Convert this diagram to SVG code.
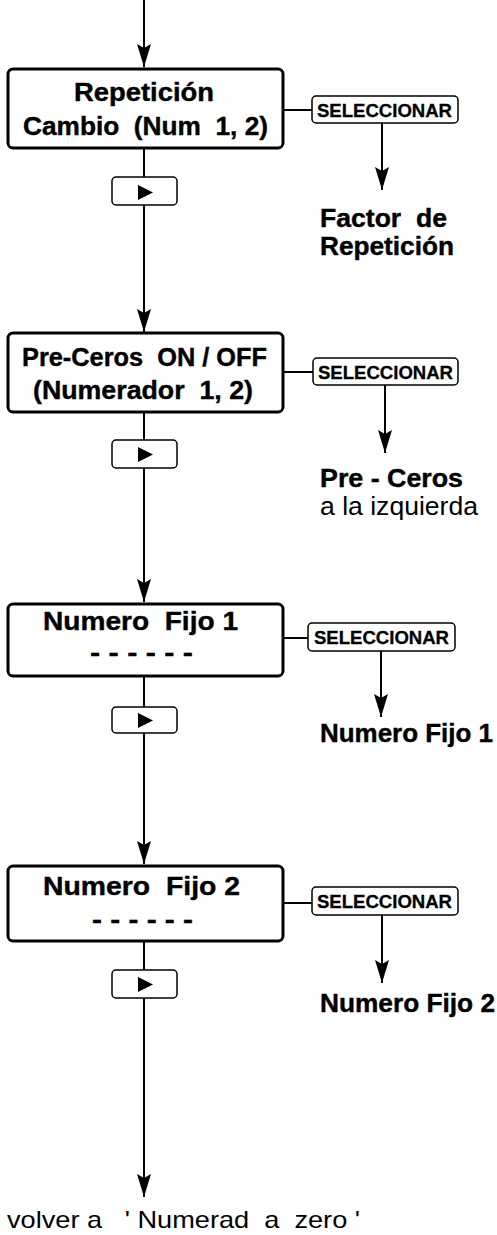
<svg xmlns="http://www.w3.org/2000/svg" width="497" height="1235" viewBox="0 0 497 1235">
<style>
.bx{fill:#fff;stroke:#000;stroke-width:3}
.btn{fill:#fff;stroke:#000;stroke-width:1.5}
.sel{fill:#fff;stroke:#000;stroke-width:1.5}
.ln{stroke:#000;stroke-width:2;fill:none}
.t{font-family:"Liberation Sans",Arial,sans-serif;font-weight:bold;font-size:26px;fill:#000;stroke:#000;stroke-width:0.4}
.s{font-family:"Liberation Sans",Arial,sans-serif;font-weight:bold;font-size:19px;fill:#000;stroke:#000;stroke-width:0.3}
.r{font-family:"Liberation Sans",Arial,sans-serif;font-weight:bold;font-size:25px;fill:#000;stroke:#000;stroke-width:0.4}
.n{font-family:"Liberation Sans",Arial,sans-serif;font-size:25px;fill:#000}
.b{font-family:"Liberation Sans",Arial,sans-serif;font-size:24px;fill:#000}
</style>
<defs>
<marker id="ah" markerUnits="userSpaceOnUse" markerWidth="30" markerHeight="20" refX="0" refY="0" viewBox="-25 -10 30 20" orient="auto">
<path d="M0,0 L-23,-7 L-19,0 L-23,7 Z" fill="#000"/>
</marker>
</defs>
<g id="connectors">
<line class="ln" x1="144" y1="0" x2="144" y2="67" marker-end="url(#ah)"/>
<line class="ln" x1="144" y1="148" x2="144" y2="177"/>
<line class="ln" x1="144" y1="205" x2="144" y2="332" marker-end="url(#ah)"/>
<line class="ln" x1="144" y1="412" x2="144" y2="440"/>
<line class="ln" x1="144" y1="468" x2="144" y2="602" marker-end="url(#ah)"/>
<line class="ln" x1="144" y1="676" x2="144" y2="707"/>
<line class="ln" x1="144" y1="733" x2="144" y2="864" marker-end="url(#ah)"/>
<line class="ln" x1="144" y1="941" x2="144" y2="970"/>
<line class="ln" x1="144" y1="998" x2="144" y2="1197" marker-end="url(#ah)"/>
<line class="ln" x1="283" y1="110" x2="312" y2="110"/>
<line class="ln" x1="283" y1="372" x2="313" y2="372"/>
<line class="ln" x1="283" y1="638" x2="308" y2="638"/>
<line class="ln" x1="283" y1="903" x2="312" y2="903"/>
<line class="ln" x1="382" y1="123" x2="382" y2="190" marker-end="url(#ah)"/>
<line class="ln" x1="385" y1="385" x2="385" y2="453" marker-end="url(#ah)"/>
<line class="ln" x1="381" y1="651" x2="381" y2="717" marker-end="url(#ah)"/>
<line class="ln" x1="382" y1="915" x2="382" y2="983" marker-end="url(#ah)"/>
</g>
<g id="box1">
<rect class="bx" x="8" y="69" width="275" height="79" rx="5"/>
<text class="t" x="74" y="101" textLength="140" lengthAdjust="spacingAndGlyphs">Repetición</text>
<text class="t" x="23" y="135" textLength="245" lengthAdjust="spacingAndGlyphs" xml:space="preserve">Cambio  (Num  1, 2)</text>
</g>
<g id="btn1">
<rect class="btn" x="112" y="177" width="65" height="28" rx="4"/>
<path d="M138,185 L153,192.5 L138,200 Z" fill="#000"/>
</g>
<g id="sel1">
<rect class="sel" x="312" y="96" width="146" height="27" rx="4"/>
<text class="s" x="317" y="116.5" textLength="135" lengthAdjust="spacingAndGlyphs">SELECCIONAR</text>
</g>
<g id="lbl1">
<text class="r" x="320" y="227" textLength="127" lengthAdjust="spacingAndGlyphs" xml:space="preserve">Factor  de</text>
<text class="r" x="320" y="255" textLength="134" lengthAdjust="spacingAndGlyphs">Repetición</text>
</g>
<g id="box2">
<rect class="bx" x="8" y="333" width="275" height="79" rx="5"/>
<text class="t" x="22" y="366" textLength="245" lengthAdjust="spacingAndGlyphs" xml:space="preserve">Pre-Ceros  ON / OFF</text>
<text class="t" x="33" y="399" textLength="220" lengthAdjust="spacingAndGlyphs" xml:space="preserve">(Numerador  1, 2)</text>
</g>
<g id="btn2">
<rect class="btn" x="112" y="440" width="65" height="28" rx="4"/>
<path d="M138,447 L153,454.5 L138,462 Z" fill="#000"/>
</g>
<g id="sel2">
<rect class="sel" x="313" y="358" width="145" height="27" rx="4"/>
<text class="s" x="318" y="378.5" textLength="135" lengthAdjust="spacingAndGlyphs">SELECCIONAR</text>
</g>
<g id="lbl2">
<text class="r" x="320" y="487" textLength="143" lengthAdjust="spacingAndGlyphs">Pre - Ceros</text>
<text class="n" x="320" y="515" textLength="158" lengthAdjust="spacingAndGlyphs">a la izquierda</text>
</g>
<g id="box3">
<rect class="bx" x="8" y="604" width="275" height="72" rx="5"/>
<text class="t" x="43" y="630" textLength="195" lengthAdjust="spacingAndGlyphs" xml:space="preserve">Numero  Fijo 1</text>
<text class="t" x="90" y="661" textLength="103" lengthAdjust="spacingAndGlyphs">- - - - - -</text>
</g>
<g id="btn3">
<rect class="btn" x="112" y="707" width="65" height="26" rx="4"/>
<path d="M138,713 L153,720.5 L138,728 Z" fill="#000"/>
</g>
<g id="sel3">
<rect class="sel" x="308" y="623" width="147" height="28" rx="4"/>
<text class="s" x="314" y="644" textLength="135" lengthAdjust="spacingAndGlyphs">SELECCIONAR</text>
</g>
<g id="lbl3">
<text class="r" x="320" y="742" textLength="173" lengthAdjust="spacingAndGlyphs">Numero Fijo 1</text>
</g>
<g id="box4">
<rect class="bx" x="8" y="866" width="275" height="75" rx="5"/>
<text class="t" x="43" y="895" textLength="197" lengthAdjust="spacingAndGlyphs" xml:space="preserve">Numero  Fijo 2</text>
<text class="t" x="92" y="928" textLength="101" lengthAdjust="spacingAndGlyphs">- - - - - -</text>
</g>
<g id="btn4">
<rect class="btn" x="112" y="970" width="65" height="28" rx="4"/>
<path d="M138,977 L153,984.5 L138,992 Z" fill="#000"/>
</g>
<g id="sel4">
<rect class="sel" x="312" y="887" width="146" height="28" rx="4"/>
<text class="s" x="317" y="908" textLength="135" lengthAdjust="spacingAndGlyphs">SELECCIONAR</text>
</g>
<g id="lbl4">
<text class="r" x="320" y="1012" textLength="175" lengthAdjust="spacingAndGlyphs">Numero Fijo 2</text>
</g>
<g id="bottom">
<text class="b" x="7" y="1228" textLength="353" lengthAdjust="spacingAndGlyphs" xml:space="preserve">volver a   ' Numerad  a  zero '</text>
</g>
</svg>
